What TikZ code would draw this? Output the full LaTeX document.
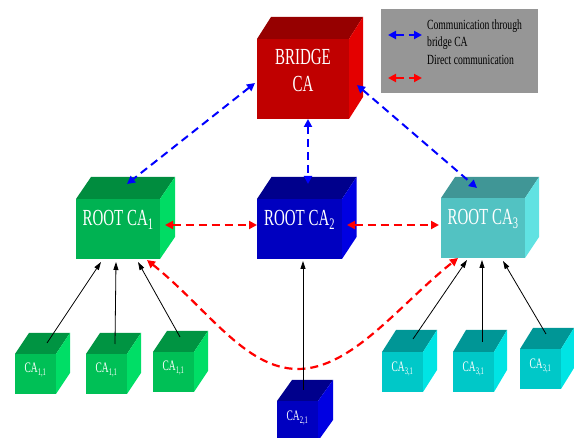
\documentclass[tikz,border=0pt]{standalone}
\usepackage{fontspec}
\usepackage{graphicx}
\setmainfont{Liberation Serif}
\usetikzlibrary{arrows.meta,calc}

% face colours: F = front, T = top, S = side
\definecolor{redF}{RGB}{192,0,0}
\definecolor{redT}{RGB}{150,0,0}
\definecolor{redS}{RGB}{228,0,0}
\definecolor{grnF}{RGB}{0,178,82}
\definecolor{grnT}{RGB}{0,140,62}
\definecolor{grnS}{RGB}{0,220,100}
\definecolor{sgrnF}{RGB}{0,192,86}
\definecolor{sgrnT}{RGB}{0,148,66}
\definecolor{sgrnS}{RGB}{0,222,102}
\definecolor{bluF}{RGB}{0,0,192}
\definecolor{bluT}{RGB}{0,0,140}
\definecolor{bluS}{RGB}{0,0,226}
\definecolor{cyaF}{RGB}{82,194,194}
\definecolor{cyaT}{RGB}{64,150,150}
\definecolor{cyaS}{RGB}{96,226,226}
\definecolor{scyF}{RGB}{0,200,200}
\definecolor{scyT}{RGB}{0,150,150}
\definecolor{scyS}{RGB}{0,228,228}
\definecolor{legendgray}{RGB}{150,150,150}

% narrow lettering
\newcommand\nar[1]{\scalebox{0.65}[1]{#1}}
\newcommand\legnar[1]{\scalebox{0.69}[1]{#1}}

% a cube: name, centre of front face, width, height, depth offset, colour set
\newcommand\boxcube[6]{%
  \node[face, fill=#6F, minimum width=#3pt, minimum height=#4pt] (#1) at #2 {};
  \fill[#6T] (#1.north west) -- ++#5 -- ([shift={#5}]#1.north east) -- (#1.north east) -- cycle;
  \fill[#6S] (#1.north east) -- ([shift={#5}]#1.north east) -- ([shift={#5}]#1.south east) -- (#1.south east) -- cycle;
}

\begin{document}
\begin{tikzpicture}[x=1pt,y=-1pt,
  face/.style={inner sep=0pt,outer sep=0pt,draw=none},
  biglbl/.style={text=white,inner sep=0pt,anchor=base,font=\fontsize{23}{25}\selectfont},
  smalllbl/.style={text=white,inner sep=0pt,anchor=base,font=\fontsize{14.5}{16}\selectfont},
  legtxt/.style={text=black,inner sep=0pt,anchor=base west,font=\fontsize{14}{16}\selectfont},
  bluearr/.style={draw=blue,line width=2pt,dash pattern=on 8pt off 5pt,
    {Triangle[length=8pt,width=8pt]}-{Triangle[length=8pt,width=8pt]}},
  redarr/.style={draw=red,line width=2.2pt,dash pattern=on 8pt off 5pt,
    {Triangle[length=8pt,width=8pt]}-{Triangle[length=8pt,width=8pt]}},
  blkarr/.style={draw=black,line width=0.8pt,-{Triangle[length=8pt,width=5pt]}}]
\useasboundingbox (0,0) rectangle (574,438);

% legend
\node[face, fill=legendgray, minimum width=157pt, minimum height=84pt, anchor=north west] (legend) at (381,9) {};
\node[legtxt] (leg1) at (427,30) {\legnar{Communication through}};
\node[legtxt] (leg2) at (427,47) {\legnar{bridge CA}};
\node[legtxt] (leg3) at (427,65) {\legnar{Direct communication}};
\coordinate (lbA) at (388,35);
\coordinate (lbB) at (422,35);
\coordinate (lrA) at (388,78);
\coordinate (lrB) at (422,78);
\draw[bluearr] (lbA) -- (lbB);
\draw[redarr] (lrA) -- (lrB);

% bridge and root authorities
\boxcube{bridge}{(303,79)}{92}{80}{(14,-22)}{red}
\boxcube{r1}{(118,229)}{84}{60}{(15,-22)}{grn}
\boxcube{r2}{(299.5,229)}{85}{60}{(14.5,-22)}{blu}
\boxcube{r3}{(483,228)}{84}{60}{(14,-21)}{cya}

\node[biglbl] (bridgeA) at (303,65) {\nar{BRIDGE}};
\node[biglbl] (bridgeB) at (303,92) {\nar{CA}};
\node[biglbl] (r1t) at (118,226) {\nar{ROOT CA\textsubscript{1}}};
\node[biglbl] (r2t) at (299.5,226) {\nar{ROOT CA\textsubscript{2}}};
\node[biglbl] (r3t) at (483,225) {\nar{ROOT CA\textsubscript{3}}};

% subordinate authorities
\boxcube{c1}{(35.5,374)}{41}{40}{(14,-21)}{sgrn}
\boxcube{c2}{(106.5,374)}{41}{40}{(14,-21)}{sgrn}
\boxcube{c3}{(173.5,372)}{41}{40}{(14,-21)}{sgrn}
\boxcube{e1}{(297.5,421)}{41}{40}{(15,-21)}{blu}
\boxcube{d1}{(402.5,372)}{41}{40}{(14,-22)}{scy}
\boxcube{d2}{(473.5,372)}{41}{40}{(13,-22)}{scy}
\boxcube{d3}{(540.5,369)}{41}{40}{(13,-21)}{scy}

\node[smalllbl] (c1t) at (35.5,373) {\nar{CA\textsubscript{1,1}}};
\node[smalllbl] (c2t) at (106.5,373) {\nar{CA\textsubscript{1,1}}};
\node[smalllbl] (c3t) at (173.5,371) {\nar{CA\textsubscript{1,1}}};
\node[smalllbl] (e1t) at (297.5,421) {\nar{CA\textsubscript{2,1}}};
\node[smalllbl] (d1t) at (402.5,372) {\nar{CA\textsubscript{3,1}}};
\node[smalllbl] (d2t) at (473.5,372) {\nar{CA\textsubscript{3,1}}};
\node[smalllbl] (d3t) at (540.5,369) {\nar{CA\textsubscript{3,1}}};

% connector end points on the faces
\coordinate (bL) at ([shift={(-2,4)}]bridge.west);
\coordinate (bB) at ([shift={(5,0)}]bridge.south);
\coordinate (bR) at ([shift={(8,6)}]bridge.east);
\coordinate (r1T) at ([shift={(9,-15)}]r1.north);
\coordinate (r2T) at ([shift={(8.5,-15)}]r2.north);
\coordinate (r3T) at ([shift={(-6,-10)}]r3.north);
\coordinate (r1E) at ([shift={(5,-4)}]r1.east);
\coordinate (r2W) at ([shift={(0,-4)}]r2.west);
\coordinate (r2E) at ([shift={(5,-4)}]r2.east);
\coordinate (r3W) at ([shift={(-2,-3)}]r3.west);
\coordinate (r1B) at ([shift={(-13,1)}]r1.south east);
\coordinate (r3B) at ([shift={(17,0)}]r3.south west);
\coordinate (dip) at (298,369);

% communication through the bridge
\draw[bluearr] (bL) -- (r1T);
\draw[bluearr] (bB) -- (r2T);
\draw[bluearr] (bR) -- (r3T);

% direct communication
\draw[redarr] (r1E) -- (r2W);
\draw[redarr] (r2E) -- (r3W);
\draw[redarr] (r1B) .. controls (207,308) and (245,369) .. (dip)
                    .. controls (352,369) and (400,304) .. (r3B);

% certification links
\draw[blkarr] ([shift={(11.5,-11)}]c1.north) -- ([shift={(-17,3)}]r1.south);
\draw[blkarr] ([shift={(8.5,-10)}]c2.north) -- ([shift={(-2,3)}]r1.south);
\draw[blkarr] ([shift={(6.5,-15)}]c3.north) -- ([shift={(20,3)}]r1.south);
\draw[blkarr] ([shift={(5.5,-11)}]e1.north) -- ([shift={(3.5,2)}]r2.south);
\draw[blkarr] ([shift={(10.5,-13)}]d1.north) -- ([shift={(-16,2)}]r3.south);
\draw[blkarr] ([shift={(8.5,-10)}]d2.north) -- ([shift={(-1,2)}]r3.south);
\draw[blkarr] ([shift={(5.5,-15)}]d3.north) -- ([shift={(20,3)}]r3.south);
\end{tikzpicture}
\end{document}
